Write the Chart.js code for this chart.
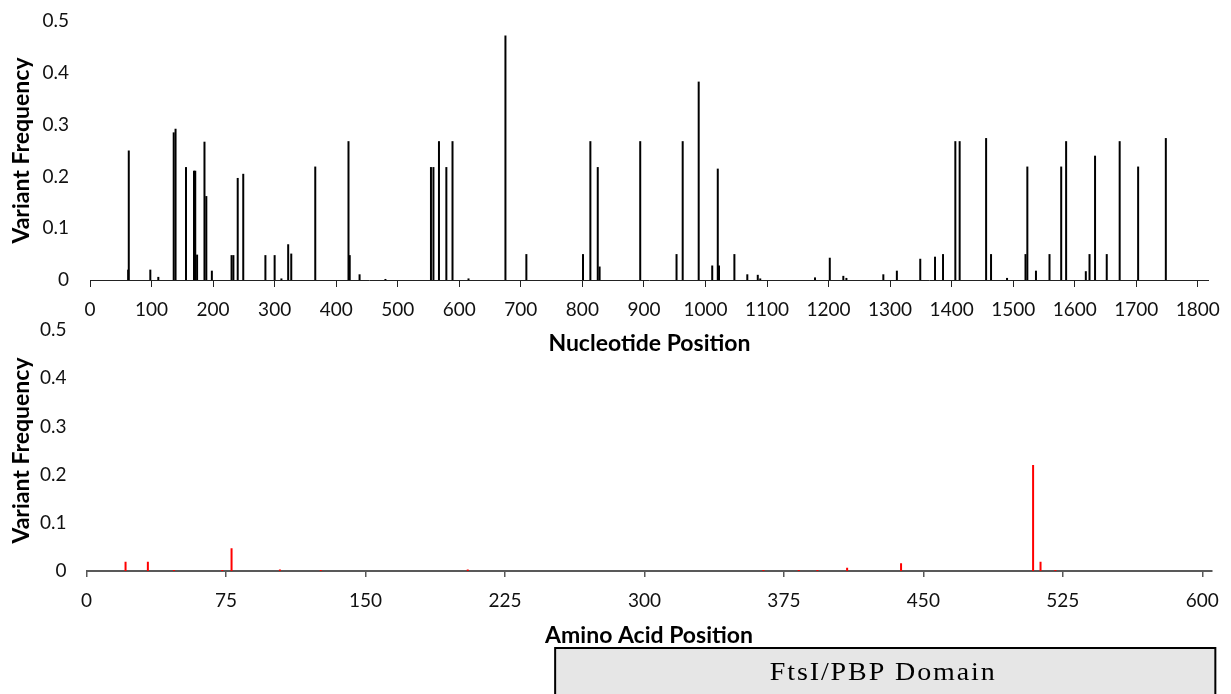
<!DOCTYPE html>
<html><head><meta charset="utf-8">
<script src="https://cdn.jsdelivr.net/npm/chart.js@4.4.1/dist/chart.umd.min.js"></script>
<style>
html,body{margin:0;padding:0;background:#fff;width:1231px;height:694px;overflow:hidden;}
canvas{position:absolute;left:0;}
#c1{top:0;}
#c2{top:316px;}
</style></head><body>
<canvas id="c1" width="1231" height="360"></canvas>
<canvas id="c2" width="1231" height="378"></canvas>
<script>
// ---- data ----
const ntPositions = [62,63,98,111,136,139,156,169,171,174,186,189,198,230,233,240,249,285,300,311,322,327,366,420,422,438,480,554,558,567,579,589,615,675,709,801,813,825,828,894,953,963,989,1011,1020,1022,1047,1068,1085,1089,1178,1202,1224,1229,1289,1311,1349,1373,1386,1406,1413,1456,1464,1490,1520,1523,1537,1559,1578,1586,1618,1624,1633,1652,1673,1703,1748];
const ntFrequencies = [0.02,0.25,0.02,0.006,0.285,0.292,0.218,0.211,0.211,0.049,0.267,0.162,0.018,0.048,0.048,0.197,0.205,0.048,0.048,0.003,0.069,0.051,0.219,0.268,0.048,0.011,0.002,0.218,0.218,0.268,0.218,0.268,0.003,0.472,0.05,0.05,0.268,0.218,0.026,0.268,0.05,0.268,0.383,0.028,0.215,0.028,0.05,0.011,0.01,0.003,0.005,0.043,0.008,0.004,0.011,0.018,0.041,0.045,0.05,0.268,0.268,0.274,0.05,0.004,0.05,0.219,0.018,0.05,0.219,0.268,0.017,0.05,0.24,0.05,0.268,0.219,0.274];
const aaPositions = [21,33,47,73,78,104,126,205,364,383,393,409,438,509,513,521];
const aaFrequencies = [0.019,0.019,0.002,0.002,0.047,0.003,0.002,0.003,0.002,0.002,0.002,0.007,0.016,0.22,0.019,0.002];
const ntTicks = [0,100,200,300,400,500,600,700,800,900,1000,1100,1200,1300,1400,1500,1600,1700,1800];
const aaTicks = [0,75,150,225,300,375,450,525,600];
const freqTicks = [0,0.1,0.2,0.3,0.4,0.5];
const ntAxisMax = 1818;
const aaAxisMax = 605;
const domainLabel = 'FtsI/PBP Domain';
const domainRange = [252, 607];
const yTitle = 'Variant Frequency';
const ntTitle = 'Nucleotide Position';
const aaTitle = 'Amino Acid Position';

Chart.defaults.font.family = 'Lato, "Open Sans", sans-serif';
Chart.defaults.color = '#111';

function makeChart(id, cfg) {
  const data = cfg.positions.map((p, i) => ({x: p, y: cfg.values[i]}));
  return new Chart(document.getElementById(id), {
    type: 'bar',
    data: {datasets: [{data, backgroundColor: cfg.color, borderWidth: 0, barThickness: 2, inflateAmount: 0, grouped: false}]},
    options: {
      responsive: false, animation: false, devicePixelRatio: 1,
      layout: {padding: cfg.padding},
      plugins: {legend: {display: false}, tooltip: {enabled: false}},
      scales: {
        x: {
          type: 'linear', min: 0, max: cfg.xMax, offset: false,
          afterBuildTicks: s => { s.ticks = cfg.xTicks.map(v => ({value: v})); },
          afterFit: s => { s.height = cfg.xHeight; },
          grid: {display: true, offset: false, drawOnChartArea: false, drawTicks: true, tickLength: cfg.tickLen, color: cfg.axisColor, lineWidth: cfg.tickWidth},
          border: {display: true, color: cfg.axisColor, width: cfg.axisWidth},
          ticks: {padding: cfg.xTickPad, maxRotation: 0, autoSkip: false, font: {size: 19}, color: '#111', callback: v => String(v)},
          title: {display: true, text: cfg.xTitle, font: {size: 23, weight: 'bold', lineHeight: 1.2}, color: '#000', padding: {top: 0, bottom: 0}}
        },
        y: {
          min: 0, max: 0.5,
          afterBuildTicks: s => { s.ticks = freqTicks.map(v => ({value: v})); },
          afterFit: s => { s.width = cfg.yWidth; s.paddingTop = 4; s.paddingBottom = 4; },
          grid: {display: false, drawTicks: false},
          border: {display: false},
          ticks: {padding: cfg.yTickPad, font: {size: 19}, color: '#111', callback: v => v === 0 ? '0' : v.toFixed(1)},
          title: {display: true, text: yTitle, font: {size: 23, weight: 'bold', lineHeight: 1.2}, color: '#000', padding: {top: 8, bottom: 0}}
        }
      }
    },
    plugins: cfg.plugins || []
  });
}

const domainBox = {
  id: 'domainBox',
  afterDraw(chart) {
    const {ctx, scales: {x}} = chart;
    const left = x.getPixelForValue(domainRange[0]);
    const right = x.getPixelForValue(domainRange[1]);
    const top = x.bottom - 1;
    ctx.save();
    ctx.fillStyle = '#e6e6e6';
    ctx.fillRect(left, top, right - left, 80);
    ctx.strokeStyle = '#000';
    ctx.lineWidth = 2;
    ctx.strokeRect(left, top, right - left, 80);
    ctx.fillStyle = '#000';
    ctx.font = '25px "Liberation Serif", serif';
    const stretch = 1.12;
    const target = 225;
    const w = ctx.measureText(domainLabel).width * stretch;
    const ls = Math.max(0, (target - w) / (domainLabel.length - 1) / stretch);
    ctx.letterSpacing = ls.toFixed(2) + 'px';
    ctx.textAlign = 'left';
    ctx.textBaseline = 'middle';
    const cx = (left + right) / 2 - 3;
    ctx.translate(cx - target / 2, top + 25);
    ctx.scale(stretch, 1);
    ctx.fillText(domainLabel, 0, 0);
    ctx.restore();
  }
};

makeChart('c1', {
  positions: ntPositions, values: ntFrequencies, color: '#000',
  xMax: ntAxisMax, xTicks: ntTicks, xTitle: ntTitle,
  padding: {top: 21, right: 13, bottom: 3, left: 0},
  yWidth: 90, xHeight: 77, tickLen: 7, xTickPad: 11, yTickPad: 21,
  axisColor: '#222', axisWidth: 1, tickWidth: 1
});

makeChart('c2', {
  positions: aaPositions, values: aaFrequencies, color: '#ff0000',
  xMax: aaAxisMax, xTicks: aaTicks, xTitle: aaTitle,
  padding: {top: 14, right: 17, bottom: 45, left: 0},
  yWidth: 86.5, xHeight: 78, tickLen: 6, xTickPad: 12, yTickPad: 20,
  axisColor: '#595959', axisWidth: 2, tickWidth: 1.5,
  plugins: [domainBox]
});
</script>
</body></html>
